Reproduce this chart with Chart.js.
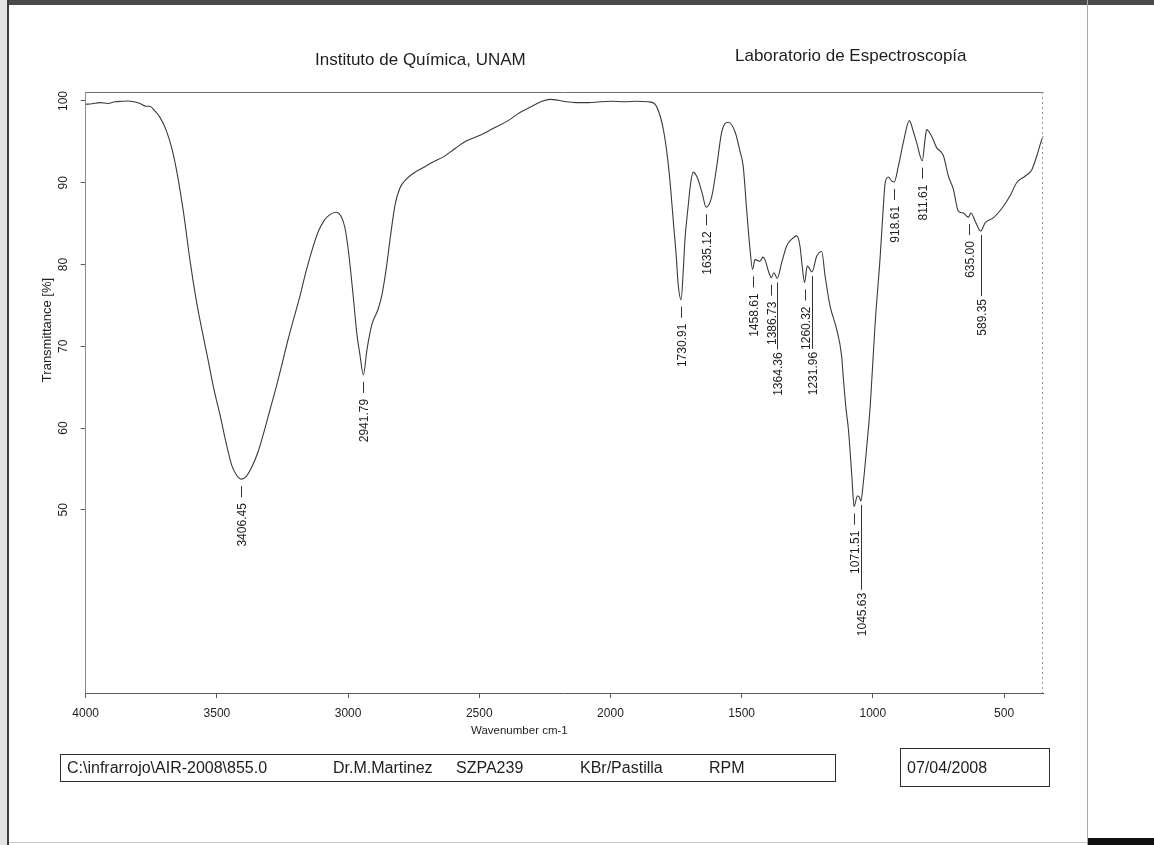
<!DOCTYPE html>
<html>
<head>
<meta charset="utf-8">
<title>IR spectrum SZPA239</title>
<script src="https://cdn.jsdelivr.net/npm/chart.js@4.4.1/dist/chart.umd.min.js"></script>
<style>
  html, body { margin: 0; padding: 0; background: #fff; }
  #page { position: relative; width: 1154px; height: 845px; overflow: hidden;
          font-family: "Liberation Sans", Arial, sans-serif; color: #1e1e1e; background: #fff; }
  #c { position: absolute; left: 0; top: 0; }
  .txt { position: absolute; white-space: nowrap; line-height: 1; }
  .box { position: absolute; border: 1px solid #2e2e2e; box-sizing: border-box; }
  .edge { position: absolute; }
</style>
</head>
<body>
<div id="page">
  <canvas id="c" width="1154" height="845"></canvas>

  <!-- sheet edges -->
  <div class="edge" style="left:0;top:0;width:1154px;height:5px;background:#4a4a4a"></div>
  <div class="edge" style="left:0;top:0;width:7px;height:845px;background:#e4e4e4"></div>
  <div class="edge" style="left:7px;top:0;width:2px;height:845px;background:#3c3c3c"></div>
  <div class="edge" style="left:1087px;top:0;width:1px;height:845px;background:#a8a8a8"></div>
  <div class="edge" style="left:9px;top:842px;width:1078px;height:1px;background:#c8c8c8"></div>
  <div class="edge" style="left:1088px;top:838px;width:66px;height:7px;background:#111"></div>

  <!-- header -->
  <div class="txt" style="left:315px;top:51px;font-size:17px">Instituto de Química, UNAM</div>
  <div class="txt" style="left:735px;top:47px;font-size:17px">Laboratorio de Espectroscopía</div>

  <!-- axis caption -->
  <div class="txt" style="left:471px;top:725px;font-size:11.5px">Wavenumber cm-1</div>

  <!-- sample information -->
  <div class="box" style="left:60px;top:754px;width:776px;height:28px"></div>
  <div class="txt" style="left:67px;top:760px;font-size:16px">C:\infrarrojo\AIR-2008\855.0</div>
  <div class="txt" style="left:333px;top:760px;font-size:16px">Dr.M.Martinez</div>
  <div class="txt" style="left:456px;top:760px;font-size:16px">SZPA239</div>
  <div class="txt" style="left:580px;top:760px;font-size:16px">KBr/Pastilla</div>
  <div class="txt" style="left:709px;top:760px;font-size:16px">RPM</div>

  <div class="box" style="left:900px;top:748px;width:150px;height:39px"></div>
  <div class="txt" style="left:907px;top:760px;font-size:16px">07/04/2008</div>
</div>

<script>
// Spectrum: wavenumber (cm-1) and transmittance (%)
const wavenumber = [
  4000, 3976, 3946, 3915, 3888, 3862, 3839, 3816, 3793, 3770,
  3755, 3740, 3717, 3694, 3671, 3649, 3626, 3603, 3580, 3557,
  3534, 3511, 3488, 3465, 3443, 3424, 3406.45, 3388, 3366, 3343,
  3320, 3297, 3274, 3252, 3229, 3206, 3183, 3160, 3137, 3114,
  3091, 3069, 3046, 3027, 3012, 2997, 2981, 2966, 2955, 2941.79,
  2928, 2909, 2886, 2871, 2855, 2840, 2821, 2802, 2779, 2749,
  2711, 2673, 2635, 2596, 2550, 2497, 2444, 2390, 2345, 2299,
  2261, 2230, 2200, 2169, 2131, 2085, 2040, 1994, 1948, 1902,
  1856, 1833, 1810, 1795, 1783, 1772, 1760, 1749, 1742, 1730.91,
  1723, 1716, 1704, 1695, 1685, 1670, 1651, 1635.12, 1614, 1595,
  1576, 1551, 1525, 1506, 1494, 1481, 1468, 1458.61, 1449, 1430,
  1419, 1411, 1398, 1386.73, 1377, 1364.36, 1347, 1328, 1309, 1290,
  1278, 1270, 1260.32, 1250, 1243, 1231.96, 1214, 1195, 1182, 1163,
  1138, 1119, 1112, 1102, 1093, 1080, 1071.51, 1059, 1052, 1045.63,
  1037, 1023, 1010, 1004, 991, 972, 960, 953, 941, 928,
  918.61, 903, 884, 861, 846, 833, 811.61, 801, 795, 776,
  757, 731, 712, 693, 674, 655, 642, 635.00, 626, 610,
  589.35, 572, 541, 503, 477, 452, 420, 394, 375, 356,
  350
];
const transmittance = [
  99.6, 99.66, 99.8, 99.7, 99.9, 99.96, 100.0, 99.9, 99.7, 99.35,
  99.35, 98.9, 98.0, 96.5, 94.1, 90.7, 86.1, 80.6, 75.9, 72.0,
  68.4, 64.7, 61.6, 58.2, 55.4, 54.2, 53.75, 54.1, 55.3, 57.1,
  59.6, 62.3, 65.0, 67.8, 70.8, 73.5, 76.2, 79.2, 81.8, 84.0,
  85.4, 86.1, 86.4, 85.9, 84.5, 81.2, 76.3, 71.4, 69.0, 66.5,
  69.6, 72.7, 74.5, 76.3, 79.4, 83.1, 87.3, 89.4, 90.4, 91.2,
  91.9, 92.6, 93.2, 94.1, 95.1, 95.8, 96.7, 97.6, 98.6, 99.35,
  99.96, 100.2, 100.1, 99.9, 99.8, 99.8, 99.9, 99.96, 99.9, 99.96,
  99.9, 99.7, 98.1, 95.9, 93.2, 89.8, 85.1, 80.9, 77.6, 75.7,
  79.0, 83.1, 87.1, 89.8, 91.3, 90.7, 88.8, 87.0, 88.3, 92.0,
  96.2, 97.4, 96.2, 93.8, 92.0, 86.7, 81.8, 79.4, 80.6, 80.4,
  80.9, 80.6, 79.2, 78.4, 79.0, 78.3, 80.3, 82.3, 83.1, 83.5,
  82.3, 80.0, 77.8, 79.8, 79.6, 79.1, 81.0, 81.6, 78.6, 74.9,
  72.1, 68.8, 65.9, 62.3, 59.8, 54.1, 50.4, 51.7, 51.6, 51.1,
  53.1, 57.8, 62.7, 65.9, 72.9, 81.0, 87.1, 90.0, 90.7, 90.2,
  90.1, 92.0, 94.9, 97.6, 96.3, 94.9, 92.7, 95.3, 96.5, 95.7,
  94.3, 93.3, 90.8, 89.2, 86.5, 86.3, 85.9, 85.8, 86.3, 85.3,
  84.1, 85.1, 85.7, 87.1, 88.4, 90.0, 90.8, 91.6, 93.3, 95.3,
  95.7
];

// Picked band positions (cm-1)
const peakWavenumbers = [3406.45, 2941.79, 1730.91, 1635.12, 1458.61, 1386.73, 1364.36,
                         1260.32, 1231.96, 1071.51, 1045.63, 918.61, 811.61, 635.00, 589.35];

// Axis ticks
const xTicks = [4000, 3500, 3000, 2500, 2000, 1500, 1000, 500];
const yTicks = [50, 60, 70, 80, 90, 100];

// Label styling: bands whose caption hangs lower on a long leader line (px below the band)
const leaderDrop = { 1364.36: 74, 1231.96: 80, 1045.63: 92, 589.35: 68 };

const FONT = '"Liberation Sans", Arial, sans-serif';
const INK = '#1e1e1e';

const decor = {
  id: 'decor',
  afterDraw(chart) {
    const { ctx, chartArea: a, scales: { x, y } } = chart;
    ctx.save();

    // frame: top and right sides
    ctx.strokeStyle = '#707070';
    ctx.lineWidth = 1;
    ctx.beginPath();
    ctx.moveTo(a.left, Math.round(a.top) + 0.5);
    ctx.lineTo(a.right, Math.round(a.top) + 0.5);
    ctx.stroke();
    ctx.setLineDash([2, 3]);
    ctx.strokeStyle = '#9a9a9a';
    ctx.beginPath();
    ctx.moveTo(Math.round(a.right) - 0.5, a.top);
    ctx.lineTo(Math.round(a.right) - 0.5, a.bottom);
    ctx.stroke();
    ctx.setLineDash([]);

    // y tick labels, written upward
    ctx.fillStyle = INK;
    ctx.font = '12px ' + FONT;
    ctx.textAlign = 'center';
    ctx.textBaseline = 'middle';
    y.ticks.forEach(t => {
      const py = y.getPixelForValue(t.value);
      ctx.save();
      ctx.translate(64, py);
      ctx.rotate(-Math.PI / 2);
      ctx.fillText(String(t.value), 0, 0);
      ctx.restore();
    });

    // y axis title
    ctx.save();
    ctx.font = '13px ' + FONT;
    ctx.translate(47, 330);
    ctx.rotate(-Math.PI / 2);
    ctx.fillText('Transmittance [%]', 0, 0);
    ctx.restore();

    // band captions
    ctx.font = '12px ' + FONT;
    ctx.textAlign = 'left';
    ctx.strokeStyle = '#333';
    ctx.lineWidth = 1;
    peakWavenumbers.forEach(w => {
      const i = wavenumber.indexOf(w);
      const px = Math.round(x.getPixelForValue(w)) + 0.5;
      const py = y.getPixelForValue(transmittance[i]);
      const text = w.toFixed(2);
      const tw = ctx.measureText(text).width;
      let textTop;
      ctx.beginPath();
      if (leaderDrop[w] !== undefined) {
        textTop = py + leaderDrop[w];
        ctx.moveTo(px, py + 4);
        ctx.lineTo(px, textTop - 3);
      } else {
        textTop = py + 24;
        ctx.moveTo(px, py + 7);
        ctx.lineTo(px, py + 18);
      }
      ctx.stroke();
      ctx.save();
      ctx.translate(px + 1, textTop + tw);
      ctx.rotate(-Math.PI / 2);
      ctx.fillText(text, 0, 0);
      ctx.restore();
    });

    ctx.restore();
  }
};

const points = wavenumber.map((w, i) => ({ x: w, y: transmittance[i] }));

new Chart(document.getElementById('c'), {
  type: 'line',
  data: {
    datasets: [{
      data: points,
      borderColor: '#3a3a3a',
      borderWidth: 1.1,
      pointRadius: 0,
      cubicInterpolationMode: 'monotone',
      fill: false
    }]
  },
  options: {
    responsive: false,
    animation: false,
    devicePixelRatio: 1,
    layout: { padding: { left: 0, top: 92, right: 110.6, bottom: 0 } },
    plugins: { legend: { display: false }, tooltip: { enabled: false }, title: { display: false } },
    scales: {
      x: {
        type: 'linear',
        reverse: true,
        min: 350,
        max: 4000,
        afterBuildTicks: s => { s.ticks = xTicks.map(v => ({ value: v })); },
        afterFit: s => { s.height = 152; },
        grid: { drawOnChartArea: false, drawTicks: true, tickLength: 5, color: '#555' },
        border: { display: true, color: '#5a5a5a', width: 1 },
        ticks: {
          color: INK,
          font: { family: FONT, size: 12 },
          padding: 8,
          maxRotation: 0,
          autoSkip: false,
          callback: v => String(v)
        }
      },
      y: {
        type: 'linear',
        min: 27.6,
        max: 101.1,
        afterBuildTicks: s => { s.ticks = yTicks.map(v => ({ value: v })); },
        afterFit: s => { s.width = 85.7; },
        grid: { drawOnChartArea: false, drawTicks: true, tickLength: 5, color: '#555' },
        border: { display: true, color: '#8a8a8a', width: 1 },
        ticks: { display: false }
      }
    }
  },
  plugins: [decor]
});
</script>
</body>
</html>
